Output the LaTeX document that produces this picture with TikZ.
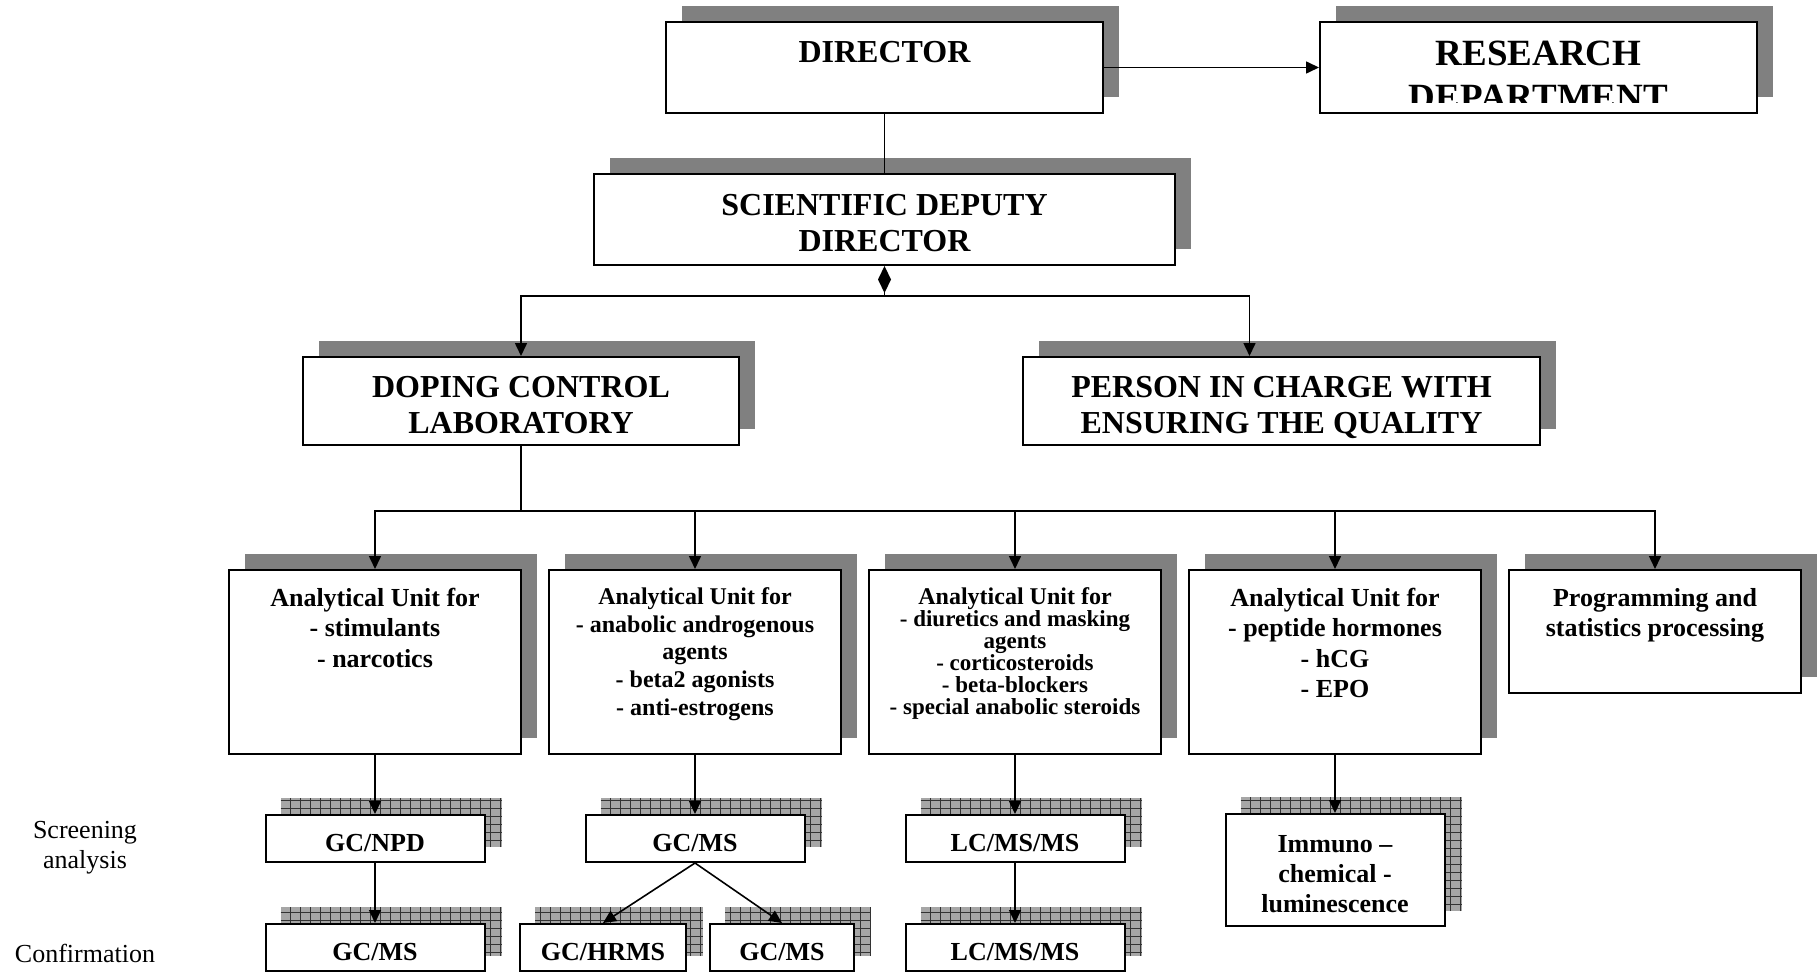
\documentclass[tikz,border=0pt]{standalone}
\usepackage{fontspec}
\setmainfont{Liberation Serif}
\usetikzlibrary{positioning}
\usetikzlibrary{arrows.meta}
\usetikzlibrary{shadows}
\usetikzlibrary{backgrounds}

\newcommand{\unitfont}{\fontsize{13}{15.1}\selectfont\bfseries\lineskiplimit=-20pt}
\newcommand{\agentfont}{\fontsize{12}{13.9}\selectfont\bfseries\lineskiplimit=-20pt}
\newcommand{\tightfont}{\fontsize{11.5}{11}\selectfont\bfseries\lineskiplimit=-20pt}
\newcommand{\topgap}[1]{\rule{0pt}{#1}}

\tikzset{
  box/.style={draw, line width=1pt, fill=white, inner sep=0pt, align=center},
  bigbox/.style={box, minimum width=218.5pt, minimum height=45.5pt, text depth=0pt,
    font=\fontsize{16}{18}\selectfont\bfseries,
    drop shadow={shadow xshift=8pt, shadow yshift=8pt, opacity=1, fill=gray}},
  unitbox/.style={box, minimum width=146pt, minimum height=92pt,
    drop shadow={shadow xshift=8pt, shadow yshift=8pt, opacity=1, fill=gray}},
  methbox/.style={box, minimum width=109.5pt, minimum height=23.5pt, text height=12.5pt, text depth=0pt,
    font=\fontsize{13}{15}\selectfont\bfseries},
  utext/.style={align=center, inner sep=0pt},
  sidelbl/.style={align=center, inner sep=0pt, font=\fontsize{13}{15}\selectfont},
  link/.style={line width=0.8pt},
  arr/.style={link, -{Triangle[length=6.5pt,width=6pt]}}
}

\begin{document}
\begin{tikzpicture}[x=0.5pt,y=-0.5pt]
 \useasboundingbox (0,0) rectangle (1820,973);

 % management
 \node[bigbox, text height=11pt, text depth=15.5pt] (dir) at (884.5,67.5) {DIRECTOR};
 \node[bigbox] (res) at (1538.5,67.5) {};
 \begin{scope}
  \clip ([yshift=5.5pt]res.south west) rectangle (res.north east);
  \node[utext, anchor=north, font=\fontsize{18.5}{22}\selectfont\bfseries] (restext)
    at ([yshift=-10pt]res.north) {RESEARCH\\DEPARTMENT};
 \end{scope}
 \node[bigbox, minimum width=290.5pt] (dep) at (884.5,219.5) {\topgap{14.3pt}SCIENTIFIC DEPUTY\\DIRECTOR};
 \node[bigbox, minimum width=218pt, minimum height=44pt] (lab) at (521,401) {\topgap{14.8pt}DOPING CONTROL\\LABORATORY};
 \node[bigbox, minimum width=258.5pt, minimum height=44pt] (qual) at (1281.5,401) {\topgap{14.8pt}PERSON IN CHARGE WITH\\ENSURING THE QUALITY};

 % analytical units
 \node[unitbox] (u1) at (375,662) {};
 \node[utext, font=\unitfont, below=9.5pt of u1.north] (u1t) {Analytical Unit for\\- stimulants\\- narcotics};
 \node[unitbox] (u2) at (695,662) {};
 \node[utext, font=\agentfont, below=9pt of u2.north] (u2t) {Analytical Unit for\\- anabolic androgenous\\agents\\- beta2 agonists\\- anti-estrogens};
 \node[unitbox] (u3) at (1015,662) {};
 \node[utext, font=\tightfont, below=9pt of u3.north] (u3t) {{\fontsize{12}{11}\selectfont Analytical Unit for}\\- diuretics and masking\\agents\\- corticosteroids\\- beta-blockers\\- special anabolic steroids};
 \node[unitbox] (u4) at (1335,662) {};
 \node[utext, font=\unitfont, below=9.5pt of u4.north] (u4t) {Analytical Unit for\\- peptide hormones\\- hCG\\- EPO};
 \node[unitbox, minimum height=61.5pt] (u5) at (1655,631.5) {};
 \node[utext, font=\unitfont, below=9.5pt of u5.north] (u5t) {Programming and\\statistics processing};

 % methods
 \node[methbox] (s1) at (375,838.5) {GC/NPD};
 \node[methbox] (s2) at (695,838.5) {GC/MS};
 \node[methbox] (s3) at (1015,838.5) {LC/MS/MS};
 \node[methbox, minimum height=56pt, text height=] (s4) at (1335,870) {\topgap{12.3pt}Immuno –\\chemical -\\luminescence};
 \node[methbox] (c1) at (375,947.5) {GC/MS};
 \node[methbox, minimum width=83pt] (c2) at (603,947.5) {GC/HRMS};
 \node[methbox, minimum width=72pt] (c3) at (782,947.5) {GC/MS};
 \node[methbox] (c4) at (1015,947.5) {LC/MS/MS};

 \node[sidelbl] (scr) at (85,848) {Screening\\analysis};
 \node[sidelbl] (conf) at (85,953) {Confirmation};

 \begin{scope}[on background layer]
  \foreach \n in {s1,s2,s3,s4,c1,c2,c3,c4} {
   \fill[gray!70] ([shift={(8pt,8pt)}]\n.south west) rectangle ([shift={(8pt,8pt)}]\n.north east);
   \draw[xstep=5pt, ystep=4pt, gray!40!black, very thin] ([shift={(8pt,8pt)}]\n.south west) grid ([shift={(8pt,8pt)}]\n.north east);
  }
 \end{scope}

 % connectors
 \draw[arr] (dir.east) -- (res.west);
 \draw[link] (dir.south) -- (dep.north);
 \coordinate (split) at (884.5,296);
 \draw[link, {Diamond[length=13.5pt,width=6.5pt]}-] (dep.south) -- (split);
 \draw[arr] (split) -| (lab.north);
 \draw[arr] (split) -| ([xshift=-16pt]qual.north);
 \coordinate (hub) at ([yshift=-32.5pt]lab.south);
 \draw[link] (lab.south) -- (hub);
 \foreach \u in {u1,u2,u3,u4,u5} \draw[arr] (hub) -| (\u.north);
 \foreach \a/\b in {u1/s1,u2/s2,u3/s3,u4/s4,s1/c1,s2/c2,s2/c3,s3/c4}
  \draw[arr] (\a.south) -- (\b.north);
\end{tikzpicture}
\end{document}
